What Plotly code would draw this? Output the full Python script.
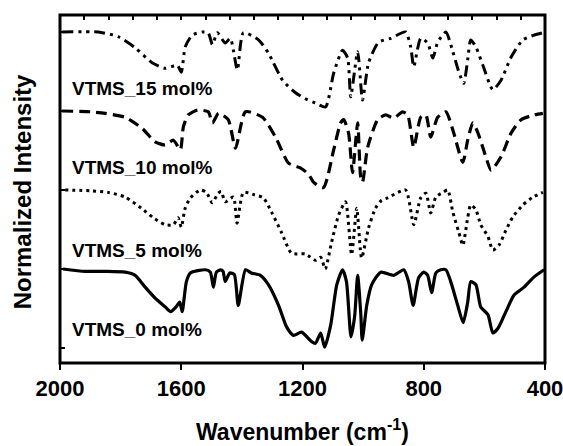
import plotly.graph_objects as go

# Wavenumbers (cm-1) and normalized intensities
wn_0 = [1990, 1917, 1850, 1785, 1752, 1719, 1686, 1653, 1635, 1617, 1605, 1597, 1583, 1570, 1520, 1504,
        1494, 1484, 1470, 1462, 1455, 1440, 1425, 1412, 1388, 1369, 1339, 1312, 1279, 1253, 1230, 1203,
        1170, 1157, 1140, 1127, 1107, 1087, 1068, 1055, 1040, 1028, 1018, 1008, 1003, 988, 972, 942,
        899, 866, 850, 835, 817, 800, 787, 774, 760, 744, 727, 711, 688, 670, 655, 645, 628, 612,
        588, 572, 555, 529, 502, 469, 436, 403]
int_0 = [1.00, 0.97, 0.97, 0.96, 0.92, 0.77, 0.63, 0.52, 0.46, 0.52, 0.58, 0.46, 0.84, 0.95, 0.99, 0.96,
         0.77, 0.96, 0.99, 0.97, 0.84, 0.95, 0.93, 0.54, 0.99, 0.95, 0.92, 0.80, 0.54, 0.27, 0.16, 0.20,
         0.08, 0.06, 0.19, 0.01, 0.29, 0.80, 0.99, 0.84, 0.14, 0.40, 0.92, 0.45, 0.10, 0.54, 0.80, 0.96,
         0.92, 0.99, 0.84, 0.54, 0.89, 0.96, 0.92, 0.70, 0.95, 0.99, 0.99, 0.84, 0.54, 0.32, 0.58, 0.84,
         0.80, 0.52, 0.42, 0.19, 0.25, 0.46, 0.67, 0.77, 0.90, 0.99]

wn_5 = [1983, 1900, 1841, 1785, 1732, 1693, 1653, 1626, 1610, 1600, 1587, 1570, 1537, 1517, 1498, 1478,
        1468, 1455, 1428, 1416, 1395, 1360, 1329, 1302, 1269, 1236, 1190, 1157, 1140, 1125, 1104, 1081,
        1058, 1038, 1021, 1005, 982, 959, 939, 919, 860, 833, 810, 793, 777, 760, 737, 721, 704,
        684, 671, 655, 645, 628, 612, 588, 572, 552, 529, 506, 473, 440, 407]
int_5 = [1.00, 0.99, 0.97, 0.91, 0.77, 0.65, 0.56, 0.56, 0.65, 0.53, 0.77, 0.90, 1.00, 0.97, 0.84, 0.96,
         0.98, 0.85, 0.91, 0.58, 0.97, 0.94, 0.90, 0.72, 0.46, 0.20, 0.19, 0.11, 0.15, 0.00, 0.34, 0.68,
         0.85, 0.18, 0.77, 0.14, 0.52, 0.77, 0.87, 0.90, 1.00, 0.56, 0.90, 0.96, 0.71, 0.91, 0.97, 1.00, 0.72,
         0.46, 0.30, 0.65, 0.81, 0.75, 0.56, 0.41, 0.24, 0.30, 0.49, 0.66, 0.81, 0.91, 0.97]

wn_10 = [1993, 1900, 1851, 1785, 1729, 1686, 1653, 1626, 1603, 1593, 1577, 1547, 1511, 1497, 1477, 1445,
         1421, 1388, 1332, 1289, 1246, 1207, 1180, 1164, 1131, 1097, 1074, 1064, 1048, 1035, 1018, 1008,
         1002, 985, 952, 926, 899, 870, 853, 833, 810, 793, 777, 754, 727, 704, 671, 655, 638, 621,
         595, 578, 545, 512, 479, 436, 407]
int_10 = [1.00, 0.99, 0.97, 0.92, 0.78, 0.61, 0.57, 0.63, 0.51, 0.80, 0.95, 1.01, 0.99, 0.85, 0.97, 0.89,
          0.53, 0.99, 0.92, 0.67, 0.34, 0.28, 0.20, 0.10, 0.03, 0.51, 0.85, 0.89, 0.72, 0.22, 0.85, 0.16,
          0.10, 0.54, 0.89, 0.95, 0.91, 0.99, 0.95, 0.54, 0.92, 0.95, 0.67, 0.92, 0.99, 0.76, 0.35, 0.63,
          0.85, 0.72, 0.42, 0.25, 0.42, 0.72, 0.89, 0.95, 0.97]

wn_15 = [1993, 1874, 1808, 1752, 1696, 1653, 1613, 1600, 1587, 1564, 1531, 1511, 1497, 1481, 1455, 1438,
         1415, 1395, 1345, 1312, 1266, 1223, 1183, 1157, 1124, 1097, 1068, 1051, 1041, 1018, 1002, 982,
         949, 909, 860, 843, 833, 810, 787, 770, 754, 727, 704, 684, 668, 655, 645, 628, 605, 572,
         545, 512, 473, 436, 407]
int_15 = [1.00, 1.00, 0.94, 0.80, 0.61, 0.54, 0.58, 0.49, 0.81, 0.96, 1.00, 0.99, 0.84, 0.99, 0.86, 0.92,
          0.52, 0.99, 0.90, 0.73, 0.39, 0.23, 0.14, 0.10, 0.05, 0.48, 0.77, 0.67, 0.18, 0.75, 0.14, 0.61,
          0.87, 0.92, 1.00, 0.81, 0.56, 0.92, 0.86, 0.67, 0.87, 1.00, 0.75, 0.49, 0.35, 0.65, 0.90, 0.81,
          0.58, 0.27, 0.39, 0.68, 0.90, 0.96, 0.99]

series_names = ["VTMS_0 mol%", "VTMS_5 mol%", "VTMS_10 mol%", "VTMS_15 mol%"]
offsets = [0, 1, 2, 3]
x_ticks = [2000, 1600, 1200, 800, 400]
x_minor = [1920, 1840, 1760, 1680, 1600, 1520, 1440, 1360, 1280, 1200, 1120, 1040, 960, 880, 800,
           720, 640, 560, 480]
y_ticks = [0, 1, 2, 3, 4]

all_wn = [wn_0, wn_5, wn_10, wn_15]
all_int = [int_0, int_5, int_10, int_15]
dashes = ["solid", "3px,4px", "11px,6px", "11px,5px,3px,5px,3px,5px"]
widths = [3.2, 3, 3.2, 3]
label_y = [0.23, 1.24, 2.28, 3.28]

FONT = "Arial, Liberation Sans, sans-serif"

fig = go.Figure()
for wn, it, off, name, d, w in zip(all_wn, all_int, offsets, series_names, dashes, widths):
    fig.add_trace(go.Scatter(
        x=wn, y=[v + off for v in it], mode="lines", name=name,
        line=dict(color="black", width=w, dash=d, shape="spline", smoothing=0.6),
        showlegend=False,
    ))
# invisible helper trace on the top axis so that axis is drawn
fig.add_trace(go.Scatter(x=[2000, 400], y=[2, 2], xaxis="x2", mode="lines",
                         line=dict(width=0, color="rgba(0,0,0,0)"),
                         showlegend=False, hoverinfo="skip"))

for name, ly in zip(series_names, label_y):
    fig.add_annotation(x=1968, y=ly, xref="x", yref="y", text=name, showarrow=False,
                       xanchor="left", yanchor="middle",
                       font=dict(family=FONT, size=19, color="black", weight="bold"))

# axis titles
fig.add_annotation(x=0.5, y=-0.192, xref="paper", yref="paper", text="Wavenumber (cm<sup>-1</sup>)",
                   showarrow=False, xanchor="center", yanchor="middle",
                   font=dict(family=FONT, size=23, color="black", weight="bold"))
fig.add_annotation(x=-0.078, y=0.491, xref="paper", yref="paper", text="Normalized Intensity",
                   showarrow=False, xanchor="center", yanchor="middle", textangle=-90,
                   font=dict(family=FONT, size=24, color="black", weight="bold"))

# plot frame
fig.add_shape(type="rect", xref="paper", yref="paper", x0=0, x1=1, y0=0, y1=1,
              line=dict(color="black", width=3), fillcolor="rgba(0,0,0,0)", layer="above")

tick_font = dict(family=FONT, size=22, color="black", weight="bold")
fig.update_layout(
    width=563, height=446,
    margin=dict(l=60, r=18, t=15, b=83, autoexpand=False),
    paper_bgcolor="white", plot_bgcolor="white",
    font=dict(family=FONT, color="black"),
    xaxis=dict(range=[2000, 400], tickvals=x_ticks, ticktext=[str(t) for t in x_ticks],
               ticks="outside", ticklen=6, tickwidth=2, tickcolor="black",
               showline=False, showgrid=False, zeroline=False, tickfont=tick_font,
               ticklabeloverflow="allow", automargin=False),
    xaxis2=dict(range=[2000, 400], overlaying="x", side="top", tickvals=x_minor,
                ticks="inside", ticklen=5, tickwidth=2, tickcolor="black",
                showticklabels=False, showline=False, showgrid=False, zeroline=False,
                automargin=False),
    yaxis=dict(range=[-0.19, 4.215], tickvals=y_ticks, ticks="inside", ticklen=5, tickwidth=2,
               tickcolor="black", showticklabels=False, showline=False,
               showgrid=False, zeroline=False, automargin=False),
)

fig.write_html("out.html", config={"displayModeBar": False},
               post_script="document.body.style.margin='0';document.body.style.overflow='hidden';")
